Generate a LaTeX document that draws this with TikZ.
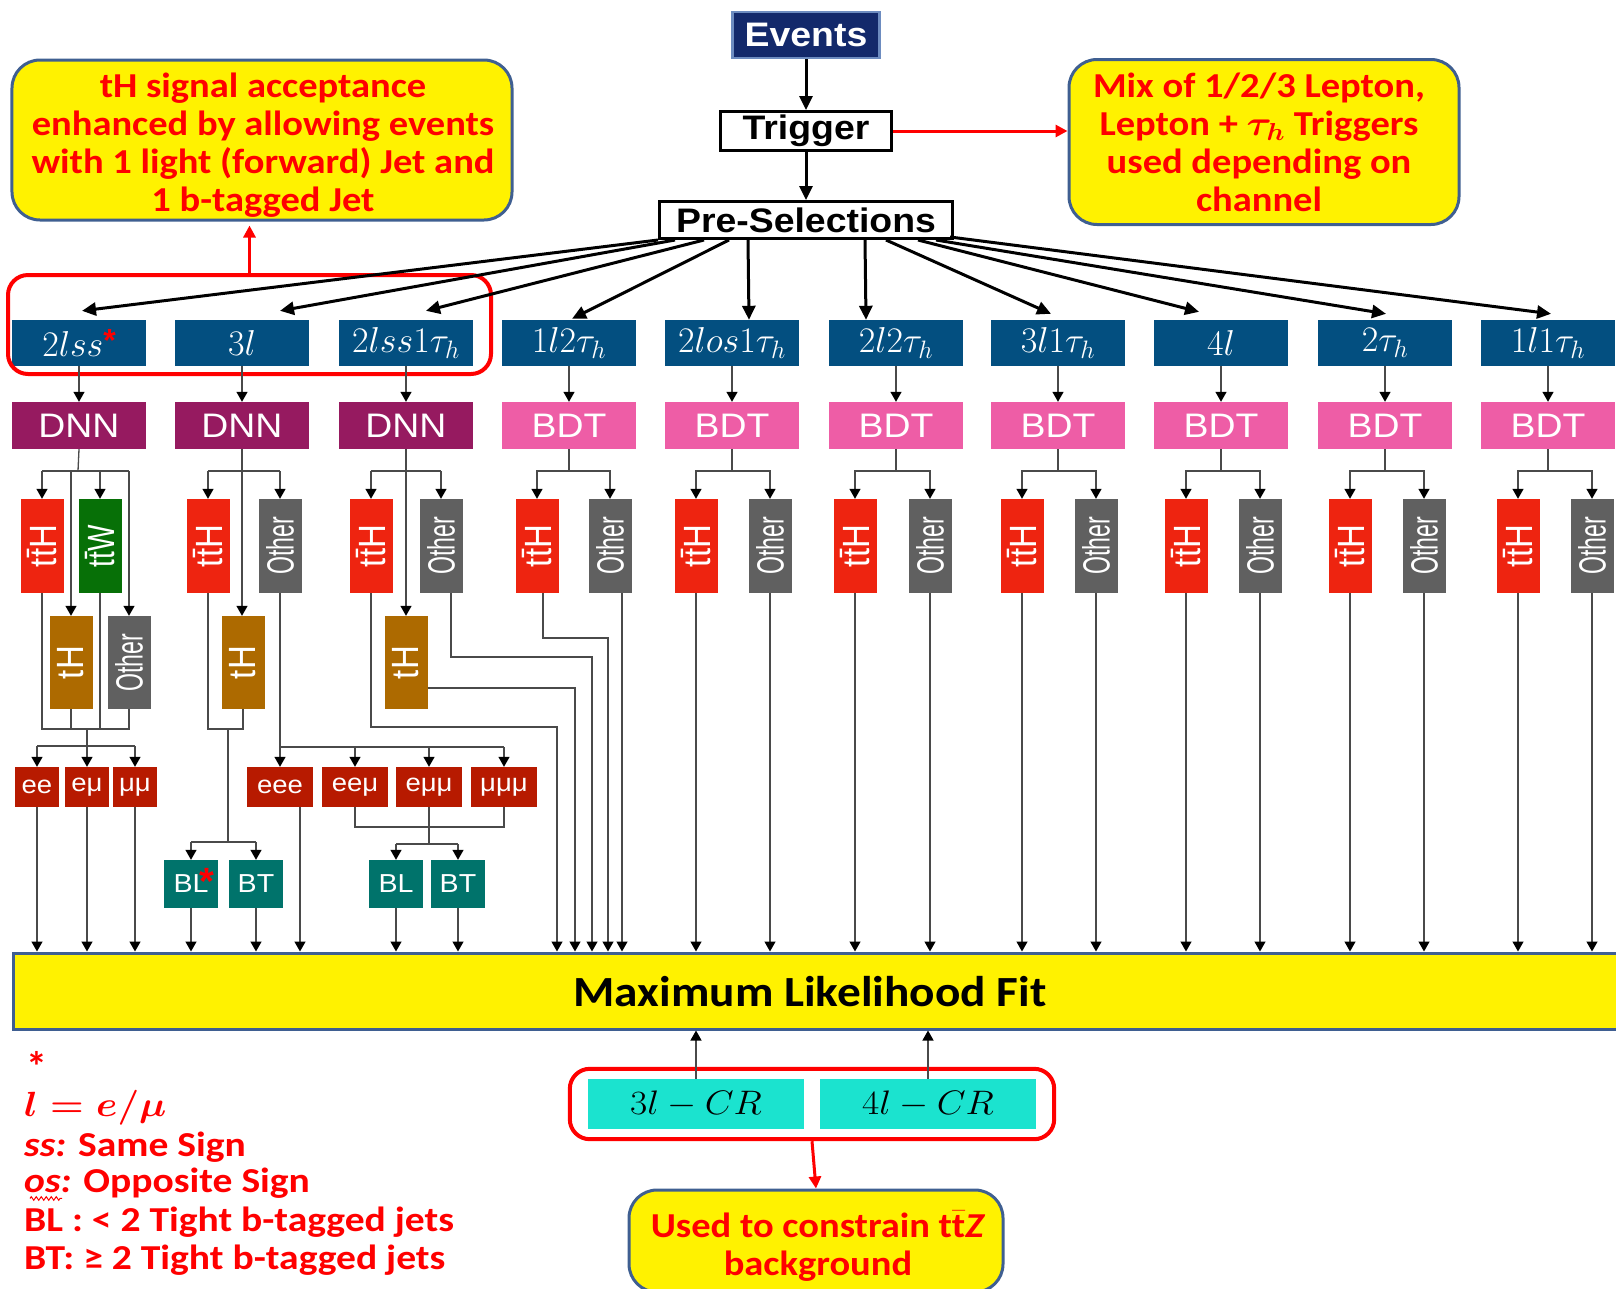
\RequirePackage{fix-cm}
\documentclass[tikz,border=0pt]{standalone}
\usepackage{fontspec}
\usepackage{graphicx}
\setsansfont{Liberation Sans}
\newfontfamily\calib{Carlito}
\usetikzlibrary{arrows.meta,calc,fit,decorations.pathmorphing}
\definecolor{chanblue}{HTML}{034F80}
\definecolor{dnnpurple}{HTML}{961A60}
\definecolor{bdtpink}{HTML}{EE5DA6}
\definecolor{tthred}{HTML}{EE2410}
\definecolor{ttwgreen}{HTML}{077007}
\definecolor{thbrown}{HTML}{AD6A00}
\definecolor{othgray}{HTML}{606060}
\definecolor{lepred}{HTML}{B71A00}
\definecolor{bteal}{HTML}{00736B}
\definecolor{crcyan}{HTML}{1BE3CF}
\definecolor{evnavy}{HTML}{13296B}
\definecolor{evborder}{HTML}{6D8CC0}
\definecolor{callborder}{HTML}{3F5F91}
\definecolor{txtred}{HTML}{FF0000}
\definecolor{linegray}{HTML}{4A4A4A}
\newcommand{\wider}[1]{\scalebox{1.1}[1]{#1}}
\newcommand{\vlab}[2]{\rotatebox{90}{\scalebox{#1}[1.15]{#2}}}
\newcommand{\mytab}[1]{\scalebox{1.1}[1]{\begin{tabular}{@{}c@{}}#1\end{tabular}}}
\newcommand{\tbar}{$\bar{\hbox{t}}$}
\begin{document}
\begin{tikzpicture}[x=1bp,y=-1bp,
  chan/.style={fill=chanblue,text=white,minimum width=134bp,minimum height=46bp,inner sep=0pt,font=\fontsize{36bp}{36bp}\selectfont},
  clf/.style={text=white,minimum width=134bp,minimum height=47bp,inner sep=0pt,font=\sffamily\fontsize{34bp}{34bp}\selectfont},
  dnn/.style={clf,fill=dnnpurple},
  bdt/.style={clf,fill=bdtpink},
  cat/.style={text=white,minimum width=43bp,minimum height=94bp,inner sep=0pt,font=\sffamily\fontsize{33bp}{33bp}\selectfont},
  tth/.style={cat,fill=tthred},
  ttw/.style={cat,fill=ttwgreen},
  thb/.style={cat,fill=thbrown,minimum height=93bp},
  oth/.style={cat,fill=othgray},
  lep/.style={fill=lepred,text=white,minimum height=40bp,inner sep=0pt,font=\sffamily\fontsize{25bp}{25bp}\selectfont},
  bbox/.style={fill=bteal,text=white,minimum width=54bp,minimum height=48bp,inner sep=0pt,font=\sffamily\fontsize{26bp}{26bp}\selectfont},
  crb/.style={fill=crcyan,text=black,minimum width=216bp,minimum height=50bp,inner sep=0pt,font=\fontsize{34bp}{34bp}\selectfont},
  flowbox/.style={draw=black,line width=3bp,fill=white,inner sep=0pt,font=\sffamily\bfseries\fontsize{34bp}{34bp}\selectfont},
  evbox/.style={draw=evborder,line width=2.5bp,fill=evnavy,text=white,inner sep=0pt,font=\sffamily\bfseries\fontsize{34bp}{34bp}\selectfont},
  callout/.style={fill=yellow,draw=callborder,line width=3bp,rounded corners=28bp,inner sep=0pt},
  calltext/.style={inner sep=0pt,text=txtred,font=\calib\bfseries\fontsize{35bp}{38bp}\selectfont},
  selbox/.style={draw=red,line width=4bp,rounded corners=20bp,inner sep=0pt},
  fitbox/.style={fill=yellow,draw=callborder,line width=3bp,minimum width=1611bp,minimum height=76bp,inner sep=0pt},
  fittext/.style={inner sep=0pt,text=black,font=\calib\bfseries\fontsize{43bp}{43bp}\selectfont},
  legend/.style={anchor=west,inner sep=0pt,text=txtred,font=\calib\bfseries\fontsize{35bp}{38bp}\selectfont},
  ln/.style={draw=linegray,line width=1.3bp},
  ar/.style={ln,-{Triangle[length=10bp,width=11bp,color=black]}},
  tar/.style={draw=black,line width=3bp,-{Triangle[length=14bp,width=13bp]}},
  rar/.style={draw=red,line width=3bp,-{Triangle[length=12bp,width=12bp]}}
]
\useasboundingbox (0,0) rectangle (1616,1288);

% ---- fit box ----
\node[fitbox] (mlfit) at (819.5,991) {};
\node[fittext] (mlfitlbl) at (810,992) {\wider{Maximum Likelihood Fit}};

% ---- top flow ----
\node[evbox,minimum width=147bp,minimum height=46bp] (ev) at (806,35) {\wider{Events}};
\node[flowbox,minimum width=171bp,minimum height=39bp] (trig) at (806,131) {\wider{Trigger}};
\node[flowbox,minimum width=293bp,minimum height=37bp] (pre) at (806,220) {\wider{Pre-Selections}};
\draw[tar] (ev.south) -- (trig.north);
\draw[tar] (trig.south) -- (pre.north);

% ---- callouts ----
\node[callout,minimum width=500bp,minimum height=160bp] (lbox) at (262,140) {};
\node[calltext] (lboxtxt) at (263,147)
  {\mytab{tH signal acceptance\\enhanced by allowing events\\with 1 light (forward) Jet and\\1 b-tagged Jet}};
\node[callout,minimum width=390bp,minimum height=165bp] (rbox) at (1264,142) {};
\node[calltext] (rboxtxt) at (1259,147)
  {\mytab{Mix of 1/2/3 Lepton,\\Lepton + {\boldmath$\tau_h$} Triggers\\used depending on\\channel}};
\draw[rar] (trig.east) -- (trig.east -| rbox.west);

% ---- channels ----
\node[chan] (ch1) at (79,343) {$2lss$\raisebox{5bp}{\textcolor{red}{\sffamily\bfseries\fontsize{32bp}{32bp}\selectfont *}}};
\foreach \i/\c/\lab in {2/242/{3l},3/406/{2lss1\tau_h},4/569/{1l2\tau_h},5/732/{2los1\tau_h},6/896/{2l2\tau_h},7/1058/{3l1\tau_h},8/1221/{4l},9/1385/{2\tau_h},10/1548/{1l1\tau_h}}
  \node[chan] (ch\i) at (\c,343) {$\lab$};

\coordinate (sA) at (8,275);
\coordinate (sB) at (491,374);
\node[selbox,fit=(sA)(sB)] (sel) {};
\draw[rar,shorten >=4bp] (sel.north) -- (sel.north |- lbox.south);

% fan arrows
\foreach \i/\sx/\sy/\ex/\ey in {1/0/0/3/-9,2/17/0/38/-9,3/46/0/20/-9,4/71/0/3/-1,5/90/0/17/0,6/207/0/-30/0,7/228/0/-7/-6,8/260/0/-22/-8,9/278/0/1/-6,10/292/-3/3/-6}
  \draw[tar] ($(pre.south west)+(\sx,\sy)$) -- ($(ch\i.north)+(\ex,\ey)$);

% ---- classifiers ----
\foreach \i/\c in {1/79,2/242,3/406}
  \node[dnn] (d\i) at (\c,425.5) {\wider{DNN}};
\foreach \i/\c/\t/\o in {4/569/537/610,5/732/696/770,6/896/855/930,7/1058/1022/1096,8/1221/1186/1260,9/1385/1350/1424,10/1548/1518/1592}{
  \node[bdt] (d\i) at (\c,425.5) {\wider{BDT}};
  \node[tth] (t\i) at (\t,546) {\vlab{1}{t\={t}H}};
  \node[oth] (o\i) at (\o,546) {\vlab{0.7}{Other}};
  \coordinate (s\i) at (\c,471);
  \draw[ln] (d\i.south) -- (s\i);
  \draw[ar] (s\i) -| (t\i.north);
  \draw[ar] (s\i) -| (o\i.north);
}
\foreach \i in {1,...,10}
  \draw[ar] (ch\i.south) -- (d\i.north);
\foreach \i in {5,...,10}{
  \draw[ar] (t\i.south) -- (t\i.south |- mlfit.north);
  \draw[ar] (o\i.south) -- (o\i.south |- mlfit.north);
}

% ---- column 1 : 2lss ----
\node[tth] (t1) at (42,546) {\vlab{1}{t\={t}H}};
\node[ttw] (w1) at (100,546) {\vlab{0.85}{t\={t}W}};
\node[thb] (h1) at (71,662.5) {\vlab{1}{tH}};
\node[oth,minimum height=93bp] (o1) at (129,662.5) {\vlab{0.7}{Other}};
\coordinate (s1) at (78,471);
\draw[ln] (d1.south) -- (s1);
\draw[ln] (t1.north |- s1) -- (o1.north |- s1);
\foreach \nd in {t1,w1,h1,o1}
  \draw[ar] (\nd.north |- s1) -- (\nd.north);
\coordinate (m1) at (87,729);
\draw[ln] (t1.south) |- (o1.south |- m1) -- (o1.south);
\draw[ln] (h1.south) -- (h1.south |- m1);
\draw[ln] (w1.south) -- (w1.south |- m1);
\coordinate (m1b) at (87,746);
\draw[ln] (m1) -- (m1b);
\node[lep,minimum width=44bp] (ee) at (37,787) {\wider{ee}};
\node[lep,minimum width=44bp] (em) at (87,787) {\wider{eμ}};
\node[lep,minimum width=44bp] (mm) at (135,787) {\wider{μμ}};
\draw[ln] (ee.north |- m1b) -- (mm.north |- m1b);
\foreach \nd in {ee,em,mm}{
  \draw[ar] (\nd.north |- m1b) -- (\nd.north);
  \draw[ar] (\nd.south) -- (\nd.south |- mlfit.north);
}

% ---- column 2 : 3l ----
\node[tth] (t2) at (208,546) {\vlab{1}{t\={t}H}};
\node[oth] (o2) at (280,546) {\vlab{0.7}{Other}};
\node[thb] (h2) at (243,662.5) {\vlab{1}{tH}};
\coordinate (s2) at (243,471);
\draw[ar] (d2.south) -- (d2.south |- h2.north);
\draw[ln] (t2.north |- s2) -- (o2.north |- s2);
\draw[ar] (t2.north |- s2) -- (t2.north);
\draw[ar] (o2.north |- s2) -- (o2.north);
\coordinate (m2) at (228,729);
\draw[ln] (t2.south) |- (h2.south |- m2) -- (h2.south);
\coordinate (m2b) at (228,842);
\draw[ln] (m2) -- (m2b);
\node[bbox] (bl1) at (191,884) {\wider{BL}};
\node[bbox] (bt1) at (256,884) {\wider{BT}};
\node[inner sep=0pt,text=red,font=\sffamily\bfseries\fontsize{38bp}{38bp}\selectfont] (blstar) at (207,881) {*};
\draw[ln] (bl1.north |- m2b) -- (bt1.north |- m2b);
\foreach \nd in {bl1,bt1}{
  \draw[ar] (\nd.north |- m2b) -- (\nd.north);
  \draw[ar] (\nd.south) -- (\nd.south |- mlfit.north);
}
\node[lep,minimum width=66bp] (eee) at (280,787) {\wider{eee}};
\node[lep,minimum width=66bp] (eem) at (355,787) {\wider{eeμ}};
\node[lep,minimum width=66bp] (emm) at (429,787) {\wider{eμμ}};
\node[lep,minimum width=66bp] (mmm) at (504,787) {\wider{μμμ}};
\coordinate (s2b) at (280,747);
\draw[ln] (o2.south) -- (s2b) -- (mmm.north |- s2b);
\foreach \nd in {eee,eem,emm,mmm}
  \draw[ar] (\nd.north |- s2b) -- (\nd.north);
\coordinate (eeeo) at ($(eee.south)+(20,0)$);
\draw[ar] (eeeo) -- (eeeo |- mlfit.north);
\coordinate (m3) at (429,827);
\draw[ln] (eem.south) |- (mmm.south |- m3) -- (mmm.south);
\coordinate (m3b) at (429,844);
\draw[ln] (emm.south) -- (m3b);
\node[bbox] (bl2) at (396,884) {\wider{BL}};
\node[bbox] (bt2) at (458,884) {\wider{BT}};
\draw[ln] (bl2.north |- m3b) -- (bt2.north |- m3b);
\foreach \nd in {bl2,bt2}{
  \draw[ar] (\nd.north |- m3b) -- (\nd.north);
  \draw[ar] (\nd.south) -- (\nd.south |- mlfit.north);
}

% ---- column 3 : 2lss1tau ----
\node[tth] (t3) at (371,546) {\vlab{1}{t\={t}H}};
\node[oth] (o3) at (441,546) {\vlab{0.7}{Other}};
\node[thb] (h3) at (406,662.5) {\vlab{1}{tH}};
\coordinate (s3) at (406,471);
\draw[ar] (d3.south) -- (h3.north);
\draw[ln] (t3.north |- s3) -- (o3.north |- s3);
\draw[ar] (t3.north |- s3) -- (t3.north);
\draw[ar] (o3.north |- s3) -- (o3.north);
\coordinate (b3a) at (557,727);
\draw[ar] (t3.south) |- (b3a) -- (b3a |- mlfit.north);
\coordinate (o3o) at ($(o3.south)+(10,0)$);
\coordinate (b3b) at (592,657);
\draw[ar] (o3o) |- (b3b) -- (b3b |- mlfit.north);
\coordinate (b3c) at (575,688);
\draw[ar] (h3.east |- b3c) -- (b3c) -- (b3c |- mlfit.north);

% ---- column 4 routing ----
\coordinate (t4o) at ($(t4.south)+(6,0)$);
\coordinate (b4) at (608,638);
\draw[ar] (t4o) |- (b4) -- (b4 |- mlfit.north);
\coordinate (o4o) at ($(o4.south)+(12,0)$);
\draw[ar] (o4o) -- (o4o |- mlfit.north);

% ---- control regions ----
\node[crb] (cr3) at (696,1104) {\wider{$3l-CR$}};
\node[crb] (cr4) at (928,1104) {\wider{$4l-CR$}};
\node[selbox,fit=(cr3)(cr4),inner xsep=18bp,inner ysep=10bp] (crbox) {};
\draw[ar] (cr3.north) -- (cr3.north |- mlfit.south);
\draw[ar] (cr4.north) -- (cr4.north |- mlfit.south);
\node[callout,minimum width=374bp,minimum height=102bp] (ttz) at (816,1241) {};
\node[calltext] (ttztxt) at (818,1249) {\mytab{Used to constrain t\tbar\textit{Z}\\background}};
\draw[rar] (crbox.south) -- (ttz.north);

% ---- legend ----
\node[legend,font=\calib\bfseries\fontsize{42bp}{42bp}\selectfont] (lg0) at (26,1066) {*};
\node[legend] (lg1) at (24,1108) {\wider{\boldmath$l = e/\mu$}};
\node[legend] (lg2) at (24,1147) {\scalebox{1.13}[1]{\textit{ss:} Same Sign}};
\node[legend] (lg3) at (24,1183) {\scalebox{1.13}[1]{\textit{os:} Opposite Sign}};
\node[legend] (lg4) at (24,1222) {\scalebox{1.13}[1]{BL : < 2 Tight b-tagged jets}};
\node[legend] (lg5) at (24,1260) {\scalebox{1.13}[1]{BT: ≥ 2 Tight b-tagged jets}};
\draw[red,line width=1bp,decorate,decoration={zigzag,amplitude=1.8bp,segment length=5bp}]
  ($(lg3.south west)+(6,0)$) -- ++(32,0);
\end{tikzpicture}
\end{document}
